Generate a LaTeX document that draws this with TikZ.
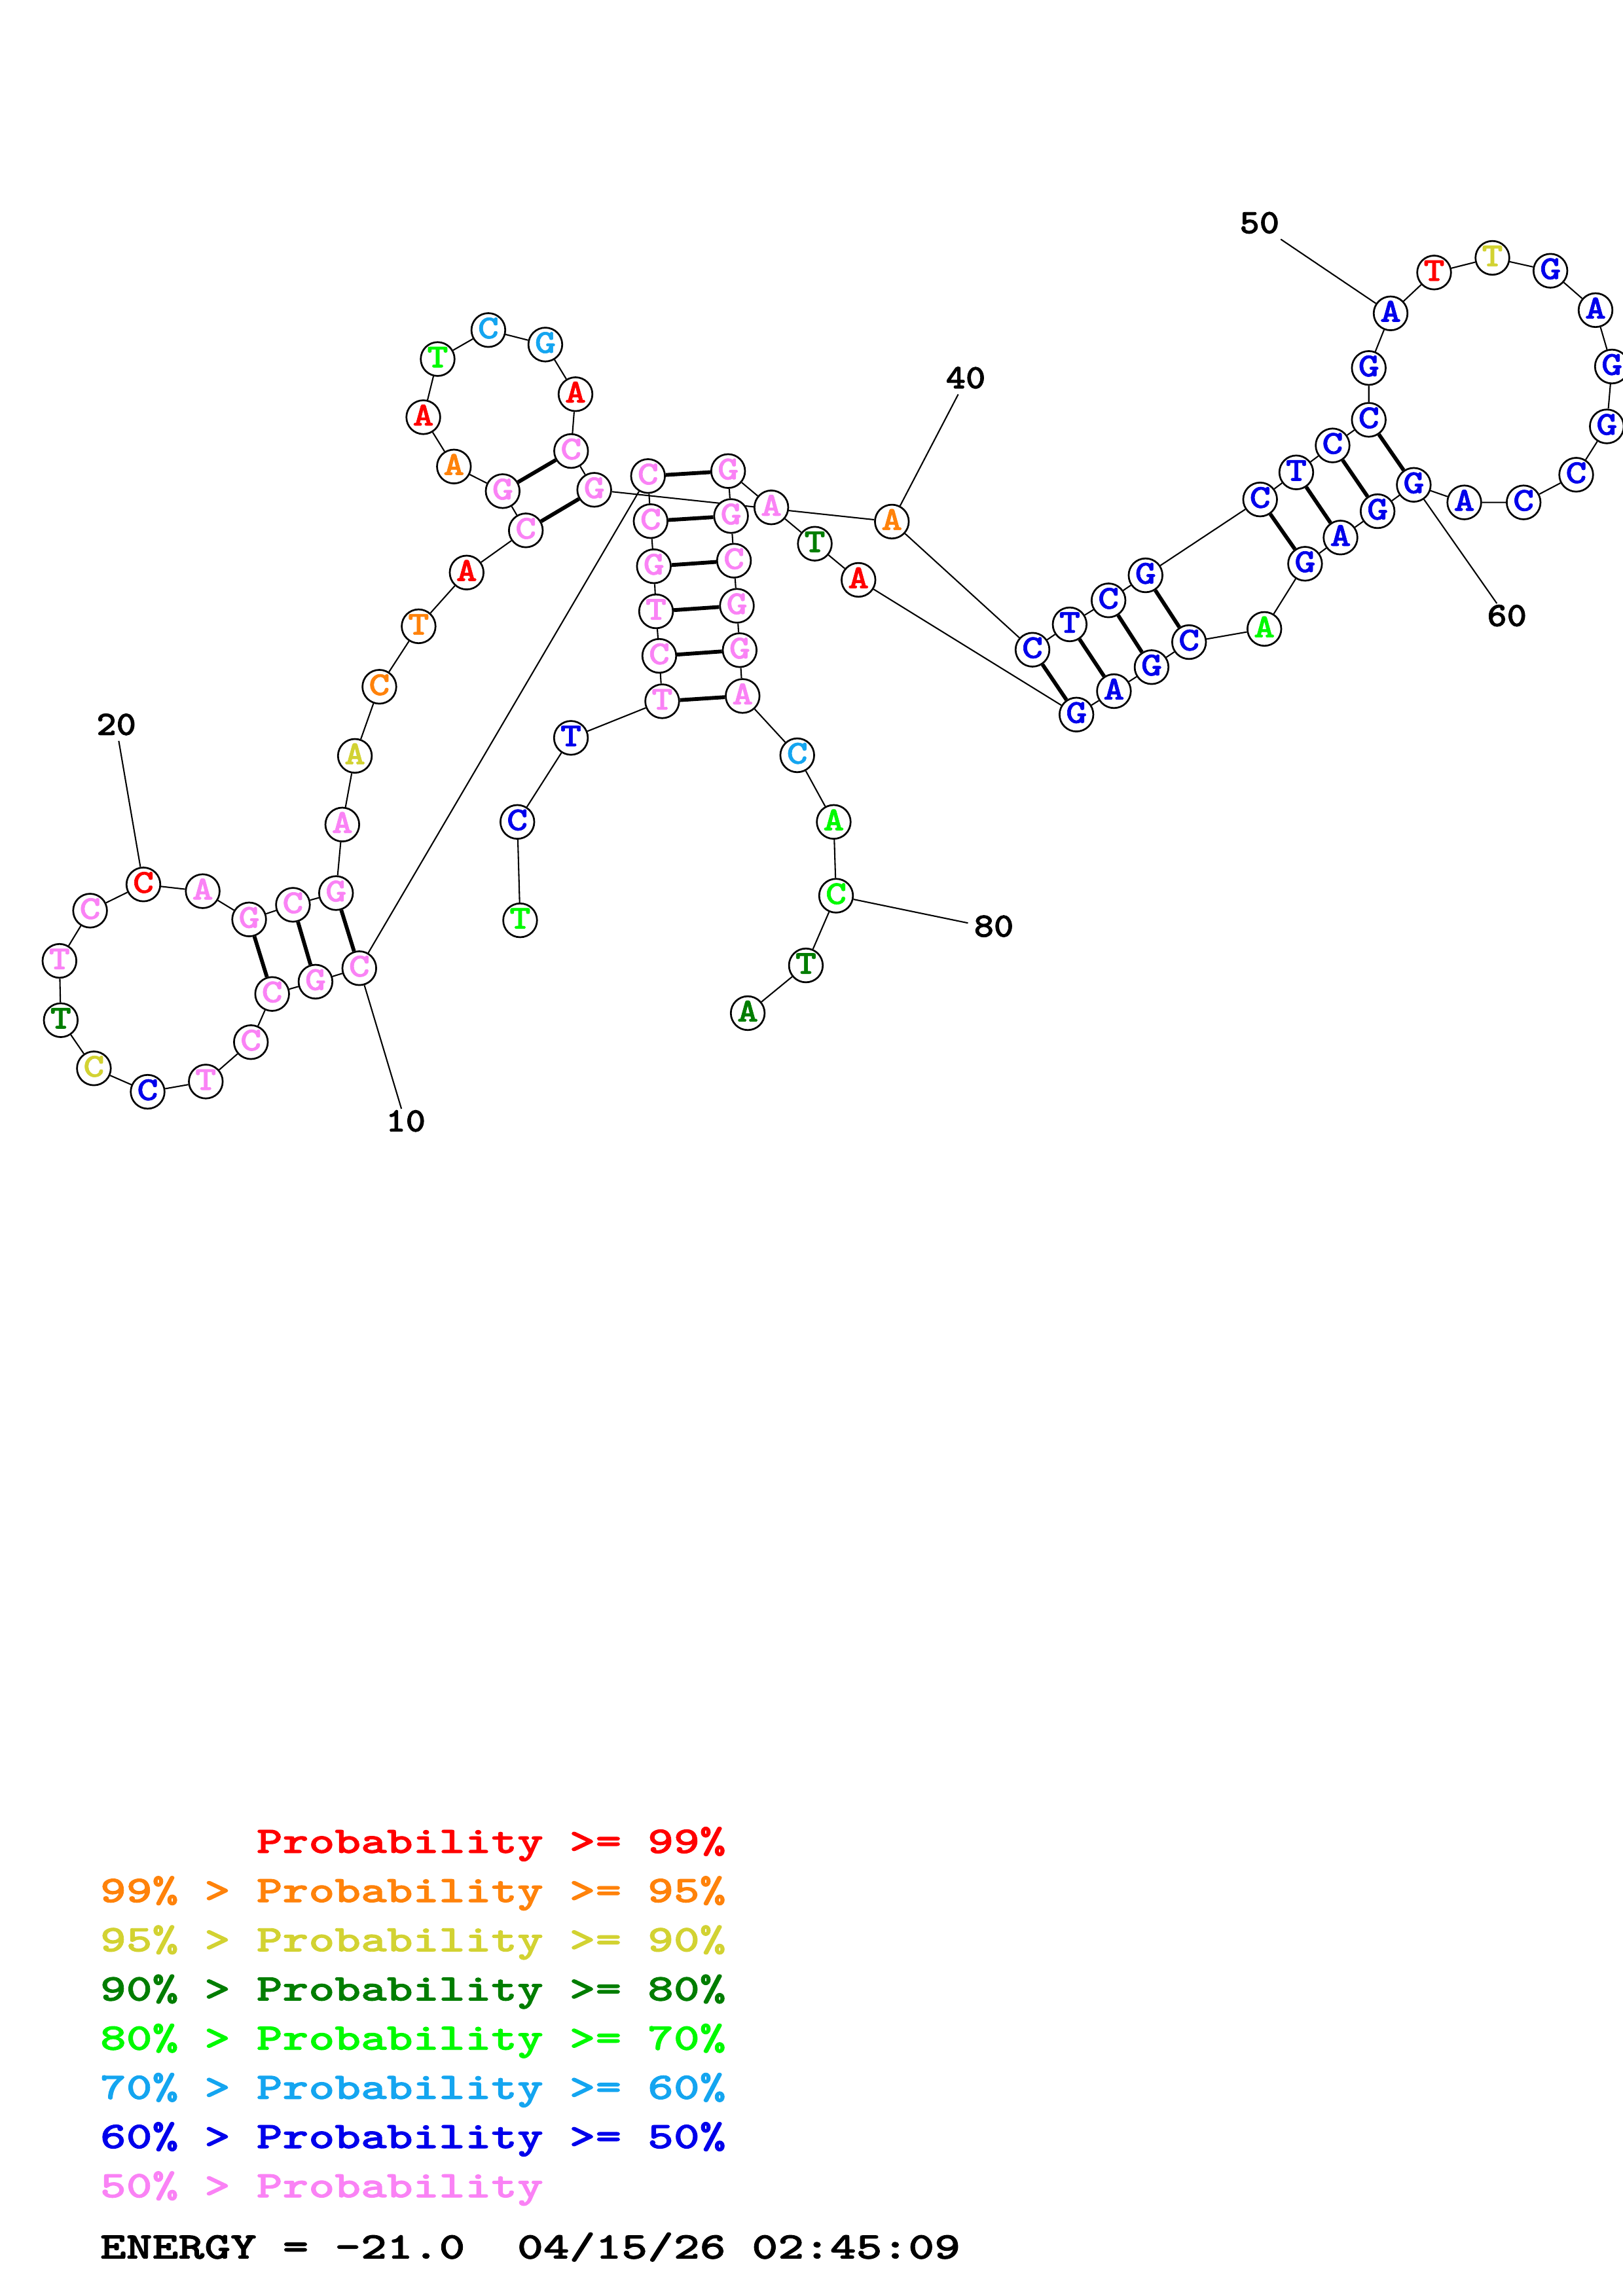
\documentclass[tikz,border=0pt]{standalone}
\usepackage{fontspec}
\usetikzlibrary{backgrounds}
\newfontfamily\nucfont{lmmonolt10-bold.otf}[FakeStretch=1.2,FakeBold=1.2]
\newfontfamily\numfont{lmmonolt10-bold.otf}[FakeStretch=1.1,FakeBold=1.5]
\newfontfamily\legfont{lmmonolt10-bold.otf}[FakeStretch=1.32,FakeBold=1.5]
\definecolor{pr99}{RGB}{255,0,0}
\definecolor{pr95}{RGB}{255,130,10}
\definecolor{pr90}{RGB}{210,210,50}
\definecolor{pr80}{RGB}{0,125,0}
\definecolor{pr70}{RGB}{0,250,0}
\definecolor{pr60}{RGB}{20,165,240}
\definecolor{pr50}{RGB}{0,0,235}
\definecolor{prlo}{RGB}{250,130,245}
\tikzstyle{nt}=[draw, circle, fill=white, line width=0.65pt, minimum size=12.4pt,
	inner sep=0pt, text height=1.42ex, text depth=0pt,
	font=\nucfont\fontsize{12.3}{13}\selectfont]
\tikzstyle{p99}=[nt,text=pr99]
\tikzstyle{p95}=[nt,text=pr95]
\tikzstyle{p90}=[nt,text=pr90]
\tikzstyle{p80}=[nt,text=pr80]
\tikzstyle{p70}=[nt,text=pr70]
\tikzstyle{p60}=[nt,text=pr60]
\tikzstyle{p50}=[nt,text=pr50]
\tikzstyle{plo}=[nt,text=prlo]
\tikzstyle{bb}=[line width=0.5pt]
\tikzstyle{bp}=[line width=1.4pt]
\tikzstyle{idx}=[inner sep=2pt, text height=1.42ex, text depth=0pt,
	font=\numfont\fontsize{12.6}{13}\selectfont]
\tikzstyle{leg}=[anchor=base west, inner sep=0pt,
	font=\legfont\fontsize{13.8}{15}\selectfont]

\begin{document}
\begin{tikzpicture}[x=0.5373pt,y=-0.5373pt]
\useasboundingbox (0,0) rectangle (1108,1568);
% nucleotides 1-39
\node[p70] (n1) at (355.1,628.5) {T};
\node[p50] (n2) at (353.2,561.3) {C};
\node[p50] (n3) at (389.8,503.9) {T};
\node[plo] (n4) at (452.1,478.9) {T};
\node[plo] (n5) at (450.1,447.9) {C};
\node[plo] (n6) at (447.9,417.5) {T};
\node[plo] (n7) at (446.4,386.7) {G};
\node[plo] (n8) at (444.2,355.9) {C};
\node[plo] (n9) at (442.4,325.1) {C};
\node[plo] (n10) at (245.3,661.2) {C};
\node[plo] (n11) at (215.4,670.4) {G};
\node[plo] (n12) at (185.8,678.8) {C};
\node[plo] (n13) at (171.3,711.7) {C};
\node[plo] (n14) at (140.5,738.6) {T};
\node[p50] (n15) at (100.8,745.6) {C};
\node[p90] (n16) at (64.1,729.6) {C};
\node[p80] (n17) at (41.5,696.7) {T};
\node[plo] (n18) at (40.6,656.2) {T};
\node[plo] (n19) at (61.5,621.9) {C};
\node[p99] (n20) at (97.9,604.0) {C};
\node[plo] (n21) at (138.4,608.6) {A};
\node[plo] (n22) at (170.1,627.9) {G};
\node[plo] (n23) at (200.0,617.9) {C};
\node[plo] (n24) at (229.4,609.9) {G};
\node[plo] (n25) at (233.7,563.1) {A};
\node[p90] (n26) at (242.3,516.2) {A};
\node[p95] (n27) at (259.0,469.0) {C};
\node[p95] (n28) at (285.8,427.7) {T};
\node[p99] (n29) at (318.6,391.0) {A};
\node[plo] (n30) at (359.0,362.2) {C};
\node[plo] (n31) at (343.2,335.4) {G};
\node[p95] (n32) at (309.9,318.6) {A};
\node[p99] (n33) at (289.0,284.9) {A};
\node[p70] (n34) at (298.8,245.2) {T};
\node[p60] (n35) at (333.4,225.4) {C};
\node[p60] (n36) at (372.3,235.3) {G};
\node[p99] (n37) at (392.9,269.2) {A};
\node[plo] (n38) at (389.9,308.0) {C};
\node[plo] (n39) at (405.7,334.5) {G};
% nucleotides 40-82
\node[p95] (n40) at (608.9,356.2) {A};
\node[p50] (n41) at (704.9,443.7) {C};
\node[p50] (n42) at (730.3,426.4) {T};
\node[p50] (n43) at (756.8,410.0) {C};
\node[p50] (n44) at (782.1,392.9) {G};
\node[p50] (n45) at (860.3,341.1) {C};
\node[p50] (n46) at (885.0,322.6) {T};
\node[p50] (n47) at (909.8,304.2) {C};
\node[p50] (n48) at (934.5,286.7) {C};
\node[p50] (n49) at (934.5,251.3) {G};
\node[p50] (n50) at (949.4,214.0) {A};
\node[p99] (n51) at (979.1,186.1) {T};
\node[p90] (n52) at (1018.9,176.1) {T};
\node[p50] (n53) at (1058.5,184.9) {G};
\node[p50] (n54) at (1089.3,211.8) {A};
\node[p50] (n55) at (1100.5,250.3) {G};
\node[p50] (n56) at (1097.0,291.2) {G};
\node[p50] (n57) at (1076.1,324.2) {C};
\node[p50] (n58) at (1040.2,343.1) {C};
\node[p50] (n59) at (999.7,343.1) {A};
\node[p50] (n60) at (965.2,331.1) {G};
\node[p50] (n61) at (940.5,349.1) {G};
\node[p50] (n62) at (915.2,367.1) {A};
\node[p50] (n63) at (891.0,385.0) {G};
\node[p70] (n64) at (863.2,429.5) {A};
\node[p50] (n65) at (811.8,438.5) {C};
\node[p50] (n66) at (786.2,455.6) {G};
\node[p50] (n67) at (760.5,472.0) {A};
\node[p50] (n68) at (734.9,488.0) {G};
\node[p99] (n69) at (586.1,396.0) {A};
\node[p80] (n70) at (556.3,371.3) {T};
\node[plo] (n71) at (526.6,346.5) {A};
\node[plo] (n72) at (497.1,321.7) {G};
\node[plo] (n73) at (499.1,352.4) {G};
\node[plo] (n74) at (501.1,382.9) {C};
\node[plo] (n75) at (503.1,413.7) {G};
\node[plo] (n76) at (505.0,444.0) {G};
\node[plo] (n77) at (507.0,475.3) {A};
\node[p60] (n78) at (544.3,515.8) {C};
\node[p70] (n79) at (569.2,561.3) {A};
\node[p70] (n80) at (570.8,611.7) {C};
\node[p80] (n81) at (550.2,659.3) {T};
\node[p80] (n82) at (510.5,691.9) {A};
% position numbers
\node[idx] (l10) at (277.0,767.0) {10};
\node[idx] (l20) at (79.4,496.2) {20};
\node[idx] (l40) at (659.3,259.5) {40};
\node[idx] (l50) at (859.9,153.6) {50};
\node[idx] (l60) at (1028.8,421.9) {60};
\node[idx] (l80) at (678.5,634.0) {80};
\begin{scope}[on background layer]
% backbone
\draw[bb] (n1) -- (n2) -- (n3) -- (n4) -- (n5) -- (n6) -- (n7) -- (n8) -- (n9)
	-- (n10) -- (n11) -- (n12) -- (n13) -- (n14) -- (n15) -- (n16) -- (n17)
	-- (n18) -- (n19) -- (n20) -- (n21) -- (n22) -- (n23) -- (n24) -- (n25)
	-- (n26) -- (n27) -- (n28) -- (n29) -- (n30) -- (n31) -- (n32) -- (n33)
	-- (n34) -- (n35) -- (n36) -- (n37) -- (n38) -- (n39) -- (n40) -- (n41);
\draw[bb] (n41) -- (n42) -- (n43) -- (n44) -- (n45) -- (n46) -- (n47) -- (n48)
	-- (n49) -- (n50) -- (n51) -- (n52) -- (n53) -- (n54) -- (n55) -- (n56)
	-- (n57) -- (n58) -- (n59) -- (n60) -- (n61) -- (n62) -- (n63) -- (n64)
	-- (n65) -- (n66) -- (n67) -- (n68) -- (n69) -- (n70) -- (n71) -- (n72)
	-- (n73) -- (n74) -- (n75) -- (n76) -- (n77) -- (n78) -- (n79) -- (n80)
	-- (n81) -- (n82);
% base pairs
\draw[bp] (n4) -- (n77);
\draw[bp] (n5) -- (n76);
\draw[bp] (n6) -- (n75);
\draw[bp] (n7) -- (n74);
\draw[bp] (n8) -- (n73);
\draw[bp] (n9) -- (n72);
\draw[bp] (n10) -- (n24);
\draw[bp] (n11) -- (n23);
\draw[bp] (n12) -- (n22);
\draw[bp] (n30) -- (n39);
\draw[bp] (n31) -- (n38);
\draw[bp] (n41) -- (n68);
\draw[bp] (n42) -- (n67);
\draw[bp] (n43) -- (n66);
\draw[bp] (n44) -- (n65);
\draw[bp] (n45) -- (n63);
\draw[bp] (n46) -- (n62);
\draw[bp] (n47) -- (n61);
\draw[bp] (n48) -- (n60);
% number ticks
\draw[bb] (l10) -- (n10);
\draw[bb] (l20) -- (n20);
\draw[bb] (l40) -- (n40);
\draw[bb] (l50) -- (n50);
\draw[bb] (l60) -- (n60);
\draw[bb] (l80) -- (n80);
\end{scope}
% legend
\node[leg,text=pr99] (k99) at (68,1265.4) {\phantom{99\% >} Probability >= 99\%};
\node[leg,text=pr95] (k95) at (68,1299.0) {99\% > Probability >= 95\%};
\node[leg,text=pr90] (k90) at (68,1332.6) {95\% > Probability >= 90\%};
\node[leg,text=pr80] (k80) at (68,1366.2) {90\% > Probability >= 80\%};
\node[leg,text=pr70] (k70) at (68,1399.8) {80\% > Probability >= 70\%};
\node[leg,text=pr60] (k60) at (68,1433.4) {70\% > Probability >= 60\%};
\node[leg,text=pr50] (k50) at (68,1467.0) {60\% > Probability >= 50\%};
\node[leg,text=prlo] (klo) at (68,1500.6) {50\% > Probability};
\node[leg] (energy) at (68,1542.4) {ENERGY = -21.0\ \ 04/15/26 02:45:09};
\end{tikzpicture}
\end{document}
